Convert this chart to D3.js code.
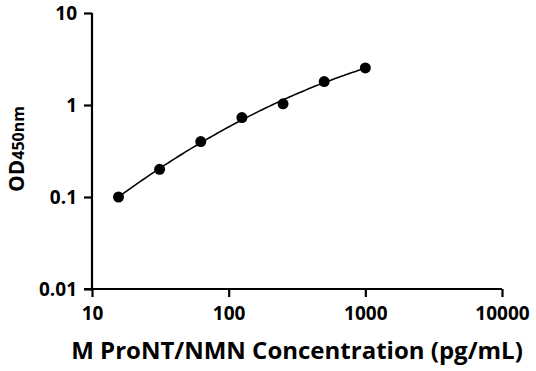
<!DOCTYPE html>
<html>
<head>
<meta charset="utf-8">
<script src="https://cdn.jsdelivr.net/npm/d3@7"></script>
<style>
  body { margin: 0; background: #fff; }
  text { font-family: "Open Sans", "Noto Sans", sans-serif; font-weight: bold; fill: #000; }
</style>
</head>
<body>
<div id="chart"></div>
<script>
// Standard curve data
var concentration = [15.625, 31.25, 62.5, 125, 250, 500, 1000],
    od450 = [0.100, 0.200, 0.400, 0.73, 1.03, 1.80, 2.53],
    xTicks = [10, 100, 1000, 10000],
    yTicks = [0.01, 0.1, 1, 10];

var w = 536, h = 371,
    margin = {left: 92, right: 34, top: 13, bottom: 82};

var svg = d3.select("#chart").append("svg")
    .attr("width", w)
    .attr("height", h);

var x = d3.scaleLog().domain([10, 10000]).range([margin.left, w - margin.right]);
var y = d3.scaleLog().domain([0.01, 10]).range([h - margin.bottom, margin.top]);

// Quadratic least-squares fit in log-log space for the standard curve
var lx = concentration.map(Math.log10), ly = od450.map(Math.log10);
function fitQuadratic(xs, ys) {
    var S = [0, 0, 0, 0, 0], T = [0, 0, 0];
    xs.forEach(function (v, i) {
        for (var k = 0; k < 5; k++) S[k] += Math.pow(v, k);
        for (var k = 0; k < 3; k++) T[k] += ys[i] * Math.pow(v, k);
    });
    var A = [[S[0], S[1], S[2], T[0]], [S[1], S[2], S[3], T[1]], [S[2], S[3], S[4], T[2]]];
    for (var i = 0; i < 3; i++) {
        for (var j = i + 1; j < 3; j++) {
            var f = A[j][i] / A[i][i];
            for (var k = i; k < 4; k++) A[j][k] -= f * A[i][k];
        }
    }
    var c = [0, 0, 0];
    for (var i = 2; i >= 0; i--) {
        var s = A[i][3];
        for (var k = i + 1; k < 3; k++) s -= A[i][k] * c[k];
        c[i] = s / A[i][i];
    }
    return c;
}
var coef = fitQuadratic(lx, ly);
var fitPts = d3.range(0, 101).map(function (i) {
    var t = lx[0] + (lx[lx.length - 1] - lx[0]) * i / 100;
    return [Math.pow(10, t), Math.pow(10, coef[0] + coef[1] * t + coef[2] * t * t)];
});

// Axes
var xAxis = svg.append("g")
    .attr("transform", "translate(0," + (h - margin.bottom) + ")")
    .call(d3.axisBottom(x).tickValues(xTicks).tickFormat(d3.format("d")).tickSize(8).tickPadding(10));
var yAxis = svg.append("g")
    .attr("transform", "translate(" + margin.left + ",0)")
    .call(d3.axisLeft(y).tickValues(yTicks).tickFormat(function (d) { return String(d); }).tickSize(8).tickPadding(7));

[xAxis, yAxis].forEach(function (g) {
    g.select(".domain").attr("stroke", "#000").attr("stroke-width", 2.2);
    g.selectAll(".tick line").attr("stroke", "#000").attr("stroke-width", 2.2);
    g.selectAll(".tick text").style("font-size", "19px").attr("fill", "#000");
});
xAxis.select(".domain").attr("d", "M" + (margin.left - 8) + ",0H" + (w - margin.right));
yAxis.select(".domain").attr("d", "M0," + margin.top + "V" + (h - margin.bottom));

// Fit line
svg.append("path")
    .datum(fitPts)
    .attr("fill", "none")
    .attr("stroke", "#000")
    .attr("stroke-width", 1.6)
    .attr("d", d3.line().x(function (d) { return x(d[0]); }).y(function (d) { return y(d[1]); }));

// Points
svg.selectAll("circle.pt")
    .data(concentration)
    .enter()
    .append("circle")
    .attr("class", "pt")
    .attr("cx", function (d) { return x(d); })
    .attr("cy", function (d, i) { return y(od450[i]); })
    .attr("r", 5.5)
    .attr("fill", "#000");

// Axis titles
svg.append("text")
    .attr("x", 297)
    .attr("y", 359)
    .attr("text-anchor", "middle")
    .style("font-size", "24px")
    .text("M ProNT/NMN Concentration (pg/mL)");

var yl = svg.append("text")
    .attr("transform", "translate(24,149) rotate(-90)")
    .attr("text-anchor", "middle");
yl.append("tspan").style("font-size", "21px").text("OD");
yl.append("tspan").style("font-size", "16px").text("450nm");
</script>
</body>
</html>
